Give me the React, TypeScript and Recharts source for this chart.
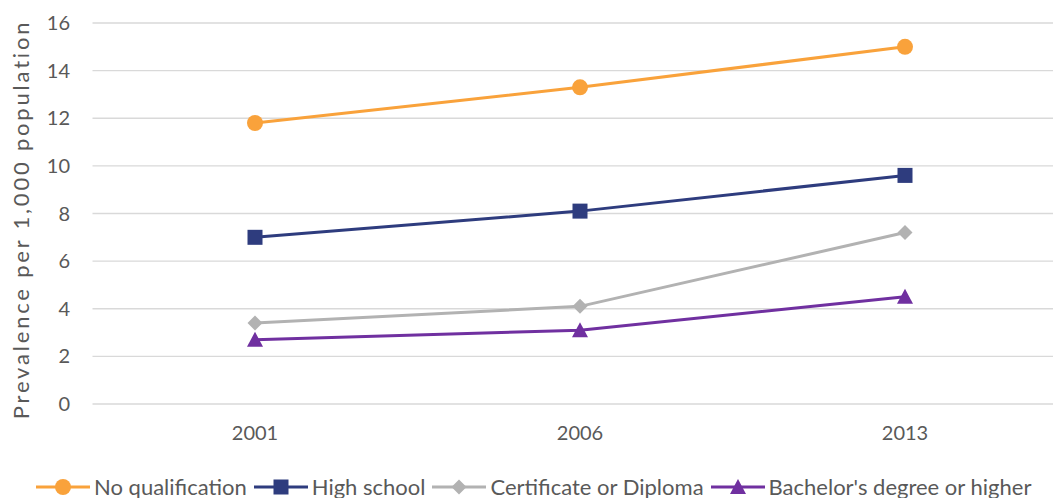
import React from 'react';
import { LineChart, Line, XAxis, YAxis, CartesianGrid, Legend } from 'recharts';

// Survey years on the category axis
const years = ['2001', '2006', '2013'];

// Prevalence per 1,000 population by highest qualification
const noQualification = [11.8, 13.3, 15.0];
const highSchool = [7.0, 8.1, 9.6];
const certificateOrDiploma = [3.4, 4.1, 7.2];
const bachelorsOrHigher = [2.7, 3.1, 4.5];

const yTicks = [0, 2, 4, 6, 8, 10, 12, 14, 16];

const data = years.map((year, i) => ({
  year,
  noQualification: noQualification[i],
  highSchool: highSchool[i],
  certificateOrDiploma: certificateOrDiploma[i],
  bachelorsOrHigher: bachelorsOrHigher[i],
}));

type Shape = 'circle' | 'square' | 'diamond' | 'triangle';

const series: { key: string; name: string; color: string; shape: Shape }[] = [
  { key: 'noQualification', name: 'No qualification', color: '#F9A23B', shape: 'circle' },
  { key: 'highSchool', name: 'High school', color: '#2E3C7E', shape: 'square' },
  { key: 'certificateOrDiploma', name: 'Certificate or Diploma', color: '#B2B2B2', shape: 'diamond' },
  { key: 'bachelorsOrHigher', name: "Bachelor's degree or higher", color: '#7030A0', shape: 'triangle' },
];

const FONT = 'Lato, "Open Sans", sans-serif';
const TEXT = '#595959';

function marker(shape: Shape, cx: number, cy: number, color: string, key?: React.Key) {
  switch (shape) {
    case 'circle':
      return <circle key={key} cx={cx} cy={cy} r={8} fill={color} />;
    case 'square':
      return <rect key={key} x={cx - 7.5} y={cy - 7.5} width={15} height={15} fill={color} />;
    case 'diamond':
      return (
        <path
          key={key}
          d={`M${cx},${cy - 7.5}L${cx + 7.5},${cy}L${cx},${cy + 7.5}L${cx - 7.5},${cy}Z`}
          fill={color}
        />
      );
    default:
      return (
        <path
          key={key}
          d={`M${cx},${cy - 8}L${cx + 8},${cy + 7}L${cx - 8},${cy + 7}Z`}
          fill={color}
        />
      );
  }
}

const makeDot = (shape: Shape, color: string) => (props: any) => {
  const { cx, cy, index } = props;
  if (cx == null || cy == null) return <g key={index} />;
  return marker(shape, cx, cy, color, index);
};

const renderLegend = () => (
  <div
    style={{
      display: 'flex',
      alignItems: 'center',
      justifyContent: 'flex-start',
      paddingLeft: 28,
      height: 20,
      lineHeight: '20px',
      fontFamily: FONT,
      fontSize: 22,
      color: TEXT,
      whiteSpace: 'nowrap',
    }}
  >
    {series.map((s) => (
      <div key={s.key} style={{ display: 'flex', alignItems: 'center', marginRight: 7 }}>
        <svg width={54} height={20} style={{ marginRight: 4, overflow: 'visible' }}>
          <line x1={0} y1={10} x2={54} y2={10} stroke={s.color} strokeWidth={3} />
          {marker(s.shape, 27, 10, s.color)}
        </svg>
        <span>{s.name}</span>
      </div>
    ))}
  </div>
);

const yLabel = (props: any) => {
  const vb = props.viewBox || {};
  const cx = (vb.x ?? 0) + 12;
  const cy = (vb.y ?? 0) + (vb.height ?? 0) / 2 + 6;
  return (
    <text
      x={cx}
      y={cy}
      transform={`rotate(-90 ${cx} ${cy})`}
      textAnchor="middle"
      dominantBaseline="central"
      fill={TEXT}
      fontFamily={FONT}
      fontSize={22}
      letterSpacing={2.8}
    >
      Prevalence per 1,000 population
    </text>
  );
};

export default function App() {
  return (
    <div style={{ width: 1053, height: 490, overflow: 'hidden', position: 'relative' }}>
      <LineChart
        width={1070}
        height={490}
        data={data}
        margin={{ top: 15, right: 10.5, left: 0, bottom: 1 }}
      >
        <CartesianGrid vertical={false} stroke="#D9D9D9" strokeWidth={1.3} />
        <XAxis
          dataKey="year"
          axisLine={false}
          tickLine={false}
          tickSize={0}
          tickMargin={21.5}
          height={73}
          padding={{ left: 162.5, right: 162.5 }}
          tick={{ fill: TEXT, fontSize: 20, fontFamily: FONT }}
        />
        <YAxis
          domain={[0, 16]}
          ticks={yTicks}
          axisLine={false}
          tickLine={false}
          tickSize={0}
          tickMargin={22.5}
          width={84.5}
          tick={{ fill: TEXT, fontSize: 20, fontFamily: FONT }}
          label={{ content: yLabel }}
        />
        <Legend
          verticalAlign="bottom"
          align="left"
          content={renderLegend}
          wrapperStyle={{ left: 0, width: 1053, height: 20 }}
        />
        {series.map((s) => (
          <Line
            key={s.key}
            type="linear"
            dataKey={s.key}
            name={s.name}
            stroke={s.color}
            strokeWidth={3}
            dot={makeDot(s.shape, s.color)}
            activeDot={false}
            isAnimationActive={false}
          />
        ))}
      </LineChart>
    </div>
  );
}
